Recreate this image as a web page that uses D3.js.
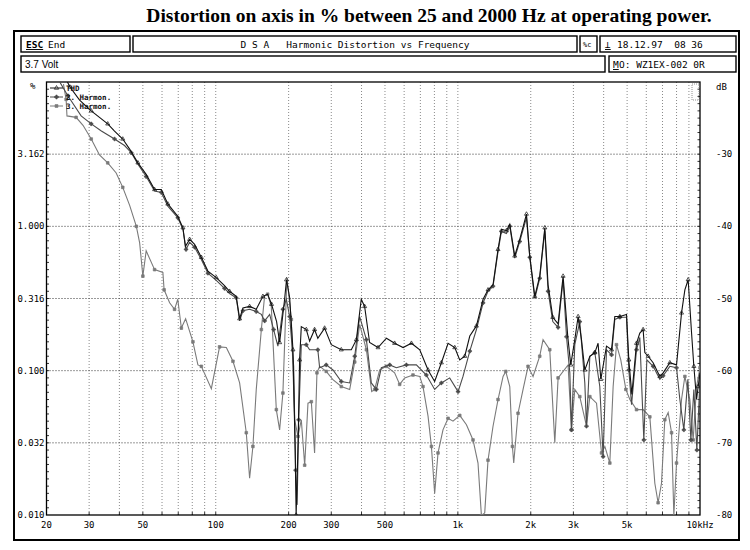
<!DOCTYPE html>
<html>
<head>
<meta charset="utf-8">
<script src="https://cdnjs.cloudflare.com/ajax/libs/d3/7.8.5/d3.min.js"></script>
<style>
  html, body { margin: 0; padding: 0; background: #fff; }
  svg { display: block; }
  text { white-space: pre; }
</style>
</head>
<body>
<svg id="chart" width="750" height="550"></svg>
<script>
// ---------------- data ----------------
const titleText = "Distortion on axis in % between 25 and 2000 Hz at operating power.";
const headerTitle = "D S A   Harmonic Distortion vs Frequency";
const headerDate = "18.12.97  08 36";
const headerVolt = "3.7 Volt";
const headerModel = "WZ1EX-002 0R";

const seriesNames = ["THD", "2. Harmon.", "3. Harmon."];

const thdFreq = [22,25,27.4,30.6,33.1,35.8,38.2,41.3,44.1,47.7,51.6,55.9,59.6,63.4,69.7,73.2,74.9,78,81.8,87.2,92.8,100.5,108.7,114,121.5,125.5,129.5,138,147,156.6,163.8,170,178.4,183.6,192.5,196,202,208.4,212.8,214.8,219,222,225.6,236.6,244.2,256,264,281.6,300,330,363,381,399,412,432,468,507,548,594,643,696,753,802,855,911,971,1018,1068,1120,1193,1271,1332,1397,1465,1513,1587,1638,1717,1801,1920,1981,2078,2178,2286,2358,2466,2594,2720,2844,2926,3040,3138,3240,3344,3508,3678,3794,3894,4110,4312,4448,4666,4972,5082,5230,5468,5642,5822,5918,6106,6404,6826,7044,7506,8000,8390,8660,8934,9226,9432,9678,9826,10000];
const thdDb = [-17,-20.7,-22.5,-24,-24.9,-25.8,-26.8,-27.9,-29.3,-31.2,-32.8,-34.9,-34.9,-36.9,-38.6,-40.2,-42.8,-41.8,-42.5,-44.3,-46.2,-47.1,-48.2,-49,-49.7,-52.8,-51.3,-51.1,-51.5,-49.7,-49.4,-50.8,-53.2,-56.1,-50.1,-47.4,-49.9,-57.1,-71,-80,-69.6,-58.5,-53.9,-54.3,-55.9,-54.3,-55.5,-54.1,-56.4,-57.1,-57.1,-55.7,-50.1,-51.1,-56.1,-56.8,-55.5,-56.2,-56.8,-56.2,-57.1,-59.9,-61.5,-58.9,-56.2,-56.8,-58.5,-58,-55.2,-53.8,-50.1,-48.8,-48.1,-43.2,-40.4,-40.6,-39.7,-44.1,-41.8,-38.3,-44.1,-49.7,-46.9,-40.2,-48.1,-52.6,-53.5,-46.9,-55.3,-59.2,-55.7,-52.5,-55.7,-59.9,-58,-57.5,-56.2,-61.2,-56.6,-57.1,-52.5,-52.5,-52.2,-58.5,-63.3,-56.2,-54.8,-54.3,-57.5,-58,-58.9,-60.8,-60.3,-58.9,-59.2,-52,-48.8,-47.4,-54.7,-59.4,-64,-62.2,-60.3];

const h2Freq = [22.6,24.5,27.8,30.6,33.7,38.2,42,44.8,47.7,51.6,55.9,59.6,63.4,69.7,73.2,75.4,78,81.8,87.2,92.8,100.5,108.7,114,121.5,125.5,129.5,138,147,154.3,159.2,167,173.4,180.6,189.4,195.7,202,209.8,213.8,216.9,220,225.6,236.6,244.2,264,268.6,286,305,330,357.5,375,393,419,439,460.7,483,523,557,613,674,741,802,855,925,1002,1050,1120,1193,1271,1332,1397,1465,1513,1587,1638,1717,1801,1920,1981,2078,2178,2286,2358,2466,2594,2720,2810,2900,2946,3040,3188,3344,3398,3508,3678,3856,3980,4110,4312,4448,4666,4972,5082,5216,5468,5642,5862,6032,6404,6826,7044,7506,8000,8256,8576,8910,9168,9432,9706,10000];
const h2Db = [-19.9,-21.9,-24.7,-25.8,-26.8,-27.9,-28.8,-29.8,-31.4,-33.1,-35.1,-35.3,-37.2,-38.8,-40.4,-43.2,-42.2,-42.9,-44.6,-46.5,-47.5,-48.6,-49.3,-49.9,-53.1,-51.7,-51.5,-51.8,-52.2,-53.1,-52.2,-54.3,-56.6,-51.5,-50.1,-52.5,-59.4,-73.8,-78.6,-66.8,-56.4,-56.4,-57.1,-57.1,-59.6,-59.2,-59.9,-61.5,-61.7,-58,-52.5,-55.7,-61.7,-62.6,-59.6,-59.2,-59.6,-59.2,-59.2,-60.6,-62.6,-61.7,-61,-62.9,-60.8,-57.3,-54.3,-50.6,-49,-48.3,-43.5,-40.7,-41,-40,-44.4,-42.1,-38.8,-44.3,-50,-47.2,-40.6,-49,-53.2,-54,-47.4,-55.3,-60.3,-68.2,-56.4,-53.2,-61.7,-67.7,-58,-57.5,-62.2,-71.9,-57.1,-57.8,-52.9,-52.6,-52.6,-59.9,-64.7,-57.1,-55.4,-69.6,-58.5,-59.4,-61.2,-60.7,-59.4,-59.6,-64,-68.2,-61.2,-69.6,-62.6,-71,-61.2];

const h3Freq = [23.5,24.1,24.3,26.5,28.3,30.6,33.1,35.8,38.8,41.3,44.1,47,48.5,50,51.6,55.9,60.5,61.2,64.5,67.6,69.7,72.1,75.1,80.5,84.4,87.2,95.9,103.7,110.6,117.8,125.5,133.7,138,142.4,147,154.3,159.2,163.8,169.6,177.9,183.6,189.4,196.8,205.2,211.8,218.6,225.6,233,240.4,248.2,256,261.8,268.6,286,304,330,357.5,375,393,419,440.6,453.4,475.4,506.6,548,575,603,652.6,696,717.8,753,777.6,802,828,868,911,955,1018,1085,1155,1211,1251,1291,1332,1397,1465,1537,1577,1638,1680,1701,1772,1859,1949,2044,2178,2248,2396,2514,2594,2852,2946,3040,3188,3398,3508,3738,3920,4046,4242,4378,4520,4708,4940,5132,5468,5822,6206,6508,6714,6934,7156,7388,7630,7798,8000,8390,8660,9080,9370,9678,10000];
const h3Db = [-20.3,-22.4,-24.7,-24.9,-26,-27.9,-30.1,-31.2,-32.6,-34.6,-37.1,-40,-42.3,-46.9,-43.4,-46,-46.4,-48.8,-50.6,-51.5,-50.1,-54.1,-52.8,-56,-59.2,-59.4,-62.5,-56.7,-56.8,-58.7,-61.7,-68.6,-74.9,-70.5,-62.6,-54.3,-49.6,-49.4,-51.1,-65.4,-68.2,-63.1,-47.1,-52.9,-66.8,-69.1,-66.8,-73.1,-64.5,-64.3,-71.4,-60.3,-59.4,-60.1,-61.2,-62.2,-62.6,-58.8,-53.6,-57.1,-62.9,-62.6,-59.9,-59.4,-60.3,-61.9,-61,-60.6,-60.8,-62.2,-66.3,-70.5,-77,-71.4,-68.2,-66.6,-67,-66.2,-67.5,-69.6,-72.8,-80.1,-79.7,-72.4,-67.7,-64,-60.8,-60.1,-62.2,-70.5,-72.8,-65.9,-62.6,-59.4,-60.8,-58,-55.7,-57.1,-70,-61,-59.2,-68.2,-62.6,-63.6,-67.7,-63.6,-64.5,-71.4,-70.5,-72.8,-62.2,-56.4,-58.5,-62.6,-64,-65.4,-65.4,-66.4,-75.6,-78.3,-75.6,-66.8,-65.8,-68.6,-80,-72.8,-64,-60.8,-64,-69.6,-62.2,-59.6];

const xGridFreqs = [30,40,50,60,70,80,90,100,200,300,400,500,600,700,800,900,1000,2000,3000,4000,5000,6000,7000,8000,9000];
const xTickValues = [20,30,50,100,200,300,500,1000,2000,3000,5000,10000];
const xTickLabels = ["20","30","50","100","200","300","500","1k","2k","3k","5k","10kHz"];
const yTickDb = [-30,-40,-50,-60,-70,-80];
const yTickPct = ["3.162","1.000","0.316","0.100","0.032","0.010"];
const yTickDbLabels = ["-30","-40","-50","-60","-70","-80"];

// ---------------- drawing ----------------
const svg = d3.select("#chart");
const mono = '"DejaVu Sans Mono", "Liberation Mono", monospace';

svg.append("rect").attr("width", 750).attr("height", 550).attr("fill", "#fff");

svg.append("text")
  .attr("x", 429).attr("y", 22)
  .attr("text-anchor", "middle")
  .attr("font-family", '"Liberation Serif", "Times New Roman", serif')
  .attr("font-weight", "bold").attr("font-size", 19.5)
  .text(titleText);

// outer frame
svg.append("rect").attr("x", 14).attr("y", 31).attr("width", 725).attr("height", 509)
  .attr("fill", "none").attr("stroke", "#000").attr("stroke-width", 2);

// header boxes
const boxes = [
  {x: 21, y: 36, w: 109, h: 16},
  {x: 133, y: 36, w: 444, h: 16},
  {x: 580, y: 36, w: 17, h: 16},
  {x: 600, y: 36, w: 136, h: 16},
  {x: 21, y: 56, w: 584, h: 16},
  {x: 609, y: 56, w: 127, h: 16}
];
svg.selectAll("rect.box").data(boxes).enter().append("rect")
  .attr("class", "box")
  .attr("x", d => d.x).attr("y", d => d.y).attr("width", d => d.w).attr("height", d => d.h)
  .attr("fill", "none").attr("stroke", "#000").attr("stroke-width", 1.4);

function htext(x, y, t, anchor) {
  return svg.append("text").attr("x", x).attr("y", y)
    .attr("font-family", mono).attr("font-size", 9.5)
    .attr("text-anchor", anchor || "start").attr("fill", "#000").text(t);
}
htext(26, 48, "ESC").attr("text-decoration", "underline").attr("font-weight", "bold");
htext(48, 48, "End");
htext(355, 48, headerTitle, "middle");
htext(583, 47, "%c").attr("font-size", 7);
htext(605, 48, "\u22A5").attr("text-decoration", "underline");
htext(617, 48, headerDate);
htext(25, 68, headerVolt).attr("font-family", '"Liberation Sans", Arial, sans-serif').attr("font-size", 10);
htext(613, 68, "M").attr("text-decoration", "underline");
htext(619, 68, "O: " + headerModel);

// plot area
const X0 = 46.5, X1 = 700, Y0 = 82, Y1 = 515;
const x = d3.scaleLog().domain([20, 10000]).range([X0, X1]);
const y = d3.scaleLinear().domain([-80, -20]).range([Y1, Y0]);

const g = svg.append("g");

// vertical grid
g.selectAll("line.vg").data(xGridFreqs).enter().append("line")
  .attr("x1", d => x(d)).attr("x2", d => x(d)).attr("y1", Y0).attr("y2", Y1)
  .attr("stroke", "#8a8a8a").attr("stroke-width", 1).attr("stroke-dasharray", "1,2");
// horizontal grid
g.selectAll("line.hg").data(yTickDb.filter(d => d > -80)).enter().append("line")
  .attr("x1", X0).attr("x2", X1).attr("y1", d => y(d)).attr("y2", d => y(d))
  .attr("stroke", "#333").attr("stroke-width", 1).attr("stroke-dasharray", "1,2");

// frame ticks (1 dB on sides)
const sideTicks = d3.range(-79, -20, 1);
g.selectAll("line.lt").data(sideTicks).enter().append("line")
  .attr("x1", X0).attr("x2", X0 + 2.5).attr("y1", d => y(d)).attr("y2", d => y(d))
  .attr("stroke", "#000").attr("stroke-width", 0.8);
g.selectAll("line.rt").data(sideTicks).enter().append("line")
  .attr("x1", X1 - 2.5).attr("x2", X1).attr("y1", d => y(d)).attr("y2", d => y(d))
  .attr("stroke", "#000").attr("stroke-width", 0.8);
g.selectAll("line.bt").data(xGridFreqs).enter().append("line")
  .attr("x1", d => x(d)).attr("x2", d => x(d)).attr("y1", Y1 - 3).attr("y2", Y1)
  .attr("stroke", "#000").attr("stroke-width", 0.8);

g.append("rect").attr("x", X0).attr("y", Y0).attr("width", X1 - X0).attr("height", Y1 - Y0)
  .attr("fill", "none").attr("stroke", "#000").attr("stroke-width", 1.3);

// small scroll widget top right
g.append("rect").attr("x", 692).attr("y", 84).attr("width", 7).attr("height", 16)
  .attr("fill", "none").attr("stroke", "#777").attr("stroke-width", 0.8).attr("stroke-dasharray", "1,1");

// axis labels
const lab = svg.append("g").attr("font-family", mono).attr("font-size", 9).attr("fill", "#000");
lab.selectAll("text.yl").data(yTickDb).enter().append("text")
  .attr("x", X0 - 2).attr("y", d => y(d) + 3).attr("text-anchor", "end")
  .text((d, i) => yTickPct[i]);
lab.selectAll("text.yr").data(yTickDb).enter().append("text")
  .attr("x", 716).attr("y", d => y(d) + 3).attr("text-anchor", "start")
  .text((d, i) => yTickDbLabels[i]);
lab.append("text").attr("x", 30).attr("y", 89).text("%");
lab.append("text").attr("x", 716).attr("y", 90).text("dB");
lab.selectAll("text.xl").data(xTickValues).enter().append("text")
  .attr("x", d => x(d)).attr("y", 528).attr("text-anchor", "middle")
  .text((d, i) => xTickLabels[i]);

// curves
svg.append("clipPath").attr("id", "clip").append("rect")
  .attr("x", X0).attr("y", Y0).attr("width", X1 - X0).attr("height", Y1 - Y0);
const curves = svg.append("g").attr("clip-path", "url(#clip)");

const series = [
  {name: seriesNames[0], f: thdFreq, v: thdDb, color: "#111", sym: d3.symbolTriangle, fill: "none"},
  {name: seriesNames[1], f: h2Freq, v: h2Db, color: "#4a4a4a", sym: d3.symbolCross, fill: "#4a4a4a"},
  {name: seriesNames[2], f: h3Freq, v: h3Db, color: "#7a7a7a", sym: d3.symbolSquare, fill: "#7a7a7a"}
];
const line = d3.line().x(d => x(d[0])).y(d => y(d[1]));

series.slice().reverse().forEach(s => {
  const pts = s.f.map((f, i) => [f, s.v[i]]);
  curves.append("path").datum(pts).attr("d", line)
    .attr("fill", "none").attr("stroke", s.color).attr("stroke-width", 1.1);
  curves.selectAll(null).data(pts.filter((d, i) => i % 2 === 1)).enter().append("path")
    .attr("transform", d => `translate(${x(d[0])},${y(d[1])})`)
    .attr("d", d3.symbol().type(s.sym).size(7))
    .attr("fill", s.fill).attr("stroke", s.color).attr("stroke-width", 0.7);
});

// legend
const leg = svg.append("g");
series.forEach((s, i) => {
  const ly = 88 + i * 9;
  leg.append("line").attr("x1", 50).attr("x2", 63).attr("y1", ly).attr("y2", ly)
    .attr("stroke", s.color).attr("stroke-width", 1);
  leg.append("path").attr("transform", `translate(56.5,${ly})`)
    .attr("d", d3.symbol().type(s.sym).size(8))
    .attr("fill", s.fill).attr("stroke", s.color).attr("stroke-width", 0.7);
  leg.append("text").attr("x", 66).attr("y", ly + 2.5)
    .attr("font-family", mono).attr("font-size", 7.5).attr("font-weight", "bold")
    .attr("fill", "#111").text(s.name);
});
</script>
</body>
</html>
